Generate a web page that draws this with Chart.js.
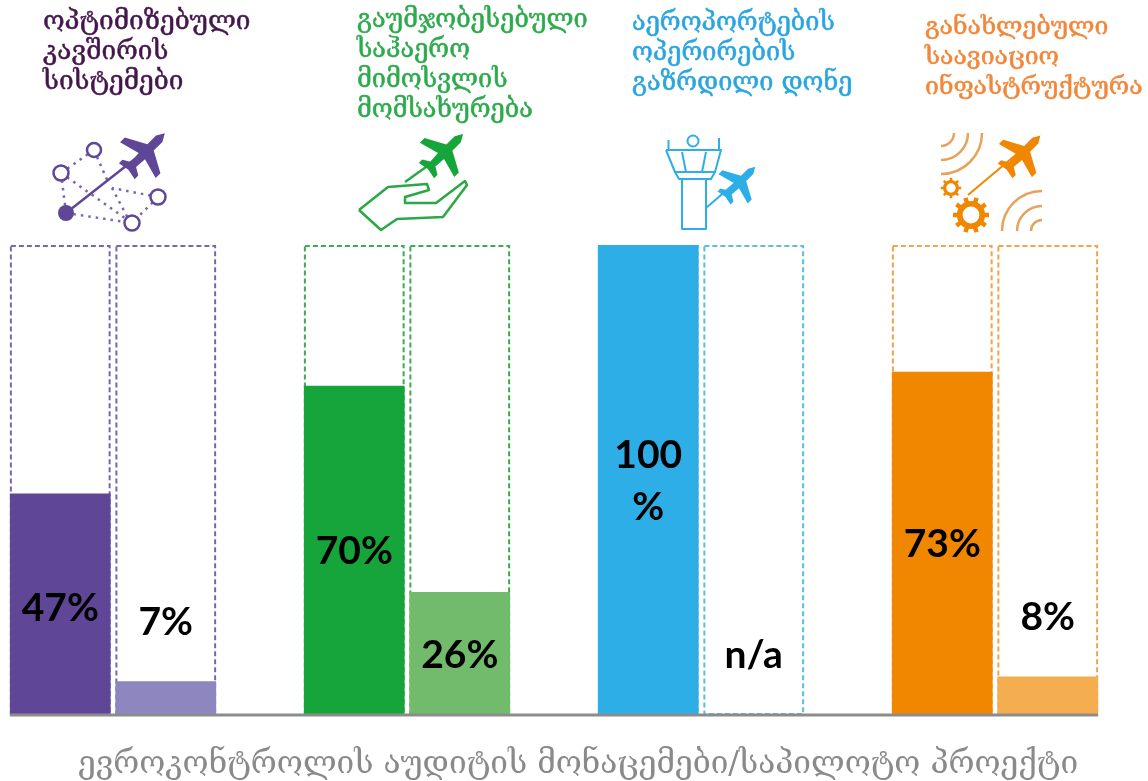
<!DOCTYPE html>
<html>
<head>
<meta charset="utf-8">
<title>chart</title>
<script src="https://cdn.jsdelivr.net/npm/chart.js@4/dist/chart.umd.min.js"></script>
<style>
  html, body { margin: 0; padding: 0; background: #fff; }
  canvas { display: block; }
</style>
</head>
<body>
<canvas id="myChart" width="1148" height="781"></canvas>
<script>
// data
const categories = [
    ["ოპტიმიზებული", "კავშირის", "სისტემები"],
    ["გაუმჯობესებული", "საჰაერო", "მიმოსვლის", "მომსახურება"],
    ["აეროპორტების", "ოპერირების", "გაზრდილი დონე"],
    ["განახლებული", "საავიაციო", "ინფასტრუქტურა"]
];
const auditValues = [47, 70, 100, 73];
const pilotValues = [7, 26, null, 8];
const auditLabels = ["47%", "70%", ["100", "%"], "73%"];
const pilotLabels = ["7%", "26%", "n/a", "8%"];
const caption = "ევროკონტროლის აუდიტის მონაცემები/საპილოტო პროექტი";

// styles
const auditColors = ["#5f4696", "#16a53a", "#2daee6", "#f18700"];
const pilotColors = ["#8d86bf", "#72bb6c", "#2daee6", "#f4ae50"];
const frameColors = ["#7a66ad", "#3fa954", "#5abbe8", "#f3a24a"];
const titleColors = ["#44174c", "#2daa4d", "#2aa5e0", "#f2873a"];
// axis units where the percent labels sit
const auditLabelLevels = [23, 35, 50, 36.5];
const pilotLabelLevels = [20, 13, 13, 21];
const titleX = [43, 357, 632, 925];
const titleY = [22, 20, 23, 28];
const titleSizes = [26.2, 25.3, 25.3, 24.8];
const titleStep = 30;

function plane(ctx, cx, cy, r, color) {
    const half = [[.72, .16], [.28, .16], [-.12, .9], [-.36, .9], [-.16, .16], [-.58, .13], [-.74, .4], [-.92, .4], [-.84, 0]];
    ctx.save();
    ctx.translate(cx, cy);
    ctx.rotate(-Math.PI / 4);
    ctx.scale(r, r);
    ctx.fillStyle = color;
    ctx.beginPath();
    ctx.moveTo(1, 0);
    half.forEach(p => ctx.lineTo(p[0], -p[1]));
    half.slice().reverse().forEach(p => ctx.lineTo(p[0], p[1]));
    ctx.closePath();
    ctx.fill();
    ctx.restore();
}

function line(ctx, pts) {
    ctx.beginPath();
    pts.forEach((p, i) => i ? ctx.lineTo(p[0], p[1]) : ctx.moveTo(p[0], p[1]));
    ctx.stroke();
}

function ring(ctx, x, y, r) {
    ctx.beginPath();
    ctx.arc(x, y, r, 0, Math.PI * 2);
    ctx.fillStyle = "#fff";
    ctx.fill();
    ctx.stroke();
}

function gear(ctx, x, y, r, teeth, color) {
    ctx.strokeStyle = color;
    ctx.lineWidth = r * .38;
    ctx.beginPath();
    ctx.arc(x, y, r * .75, 0, Math.PI * 2);
    ctx.stroke();
    ctx.lineWidth = r * .3;
    for (let i = 0; i < teeth; i++) {
        const a = i * Math.PI * 2 / teeth;
        line(ctx, [[x + Math.cos(a) * r * .8, y + Math.sin(a) * r * .8], [x + Math.cos(a) * r * 1.2, y + Math.sin(a) * r * 1.2]]);
    }
}

function drawIcons(ctx) {
    ctx.save();
    ctx.lineCap = "butt";
    ctx.lineJoin = "round";

    // network
    const purple = auditColors[0];
    ctx.strokeStyle = "#7a66ad";
    ctx.lineWidth = 2.5;
    ctx.setLineDash([2.5, 5]);
    [
        [[94, 150], [61, 173]], [[94, 150], [108, 182]], [[61, 173], [66, 213]], [[61, 173], [132, 223]],
        [[66, 213], [132, 223]], [[158, 197], [132, 223]], [[158, 197], [112, 188]], [[112, 188], [130, 222]]
    ].forEach(p => line(ctx, p));
    ctx.setLineDash([]);
    ctx.strokeStyle = purple;
    ctx.lineWidth = 2.5;
    line(ctx, [[66, 213], [140, 155]]);
    [[94, 150, 7], [61, 173, 7.5], [158, 197, 7.5], [132, 223, 7.5]].forEach(c => ring(ctx, c[0], c[1], c[2]));
    ctx.fillStyle = purple;
    ctx.beginPath();
    ctx.arc(66, 213, 8, 0, Math.PI * 2);
    ctx.fill();
    plane(ctx, 145, 153, 28, purple);

    // hand
    const green = auditColors[1];
    ctx.strokeStyle = "#2aa845";
    ctx.lineWidth = 2.5;
    line(ctx, [[359, 210], [388, 187], [427, 184], [429, 190], [405, 197], [405, 203], [436, 203], [465, 181], [467, 185], [443, 217], [397, 219], [381, 230], [359, 210]]);
    line(ctx, [[405, 182], [440, 157]]);
    plane(ctx, 444, 153, 27, green);

    // tower
    const blue = auditColors[2];
    ctx.strokeStyle = blue;
    ctx.lineWidth = 2;
    ring(ctx, 693, 141, 5.5);
    line(ctx, [[668.5, 140], [668.5, 150]]);
    line(ctx, [[719, 138], [719, 150]]);
    line(ctx, [[666, 150], [721, 150], [715, 172], [675, 172], [666, 150]]);
    line(ctx, [[682, 152], [686, 172]]);
    line(ctx, [[706, 152], [702, 172]]);
    line(ctx, [[675, 172], [679, 179], [711, 179], [715, 172]]);
    line(ctx, [[682, 179], [682, 229], [706, 229], [706, 179]]);
    line(ctx, [[706, 208], [735, 183]]);
    plane(ctx, 739, 183, 23, blue);

    // radar and gears
    const orange = auditColors[3];
    ctx.strokeStyle = "#e5a35c";
    ctx.lineWidth = 2.5;
    [13, 27, 41].forEach(r => {
        ctx.beginPath();
        ctx.arc(941, 133, r, 0, Math.PI / 2);
        ctx.stroke();
    });
    [11, 25, 40].forEach(r => {
        ctx.beginPath();
        ctx.arc(1042, 231, r, Math.PI, Math.PI * 1.5);
        ctx.stroke();
    });
    ctx.strokeStyle = orange;
    ctx.lineWidth = 2;
    line(ctx, [[968, 195], [1018, 153]]);
    plane(ctx, 1022, 154, 26, orange);
    gear(ctx, 951, 188, 8.5, 8, orange);
    gear(ctx, 971, 215, 15, 10, orange);
    ctx.restore();
}

const extras = {
    id: "extras",
    beforeDatasetsDraw(chart) {
        // dashed 100% frames behind the bars
        const ctx = chart.ctx;
        const y = chart.scales.y;
        const top = y.getPixelForValue(100) + 1;
        const bottom = y.getPixelForValue(0);
        ctx.save();
        ctx.lineWidth = 2;
        ctx.setLineDash([5, 3]);
        chart.data.datasets.forEach((ds, d) => {
            chart.getDatasetMeta(d).data.forEach((bar, i) => {
                ctx.strokeStyle = frameColors[i];
                ctx.strokeRect(bar.x - bar.width / 2 + 1, top, bar.width - 2, bottom - top);
            });
        });
        ctx.restore();
    },
    afterDatasetsDraw(chart) {
        const ctx = chart.ctx;
        const y = chart.scales.y;
        const metaA = chart.getDatasetMeta(0).data;
        const metaB = chart.getDatasetMeta(1).data;
        const base = y.getPixelForValue(0);

        // baseline
        ctx.save();
        ctx.strokeStyle = "#8c8c8c";
        ctx.lineWidth = 3;
        ctx.beginPath();
        ctx.moveTo(metaA[0].x - metaA[0].width / 2, base + 1);
        ctx.lineTo(metaB[3].x + metaB[3].width / 2, base + 1);
        ctx.stroke();

        // percent labels
        ctx.fillStyle = "#000";
        ctx.font = "bold 39px Lato";
        ctx.textAlign = "center";
        ctx.textBaseline = "middle";
        const putLabel = (text, x, level) => {
            const rows = [].concat(text);
            rows.forEach((t, r) => {
                ctx.fillText(t, x, y.getPixelForValue(level) + 2 + (r - (rows.length - 1) / 2) * 52);
            });
        };
        auditLabels.forEach((t, i) => putLabel(t, metaA[i].x, auditLabelLevels[i]));
        pilotLabels.forEach((t, i) => putLabel(t, metaB[i].x, pilotLabelLevels[i]));

        // titles above each pair
        ctx.textAlign = "left";
        categories.forEach((rows, i) => {
            ctx.font = titleSizes[i] + "px 'DejaVu Serif'";
            ctx.fillStyle = titleColors[i];
            ctx.strokeStyle = titleColors[i];
            ctx.lineWidth = .5;
            rows.forEach((t, r) => {
                ctx.fillText(t, titleX[i], titleY[i] + r * titleStep);
                ctx.strokeText(t, titleX[i], titleY[i] + r * titleStep);
            });
        });

        // caption
        ctx.textAlign = "center";
        ctx.fillStyle = "#8a8a8a";
        ctx.font = "31.6px 'DejaVu Serif'";
        ctx.fillText(caption, 578, 765);
        ctx.restore();

        drawIcons(ctx);
    }
};

const ctx = document.getElementById("myChart").getContext("2d");
new Chart(ctx, {
    type: "bar",
    data: {
        labels: categories.map(c => c.join(" ")),
        datasets: [
            { label: "audit", data: auditValues, backgroundColor: auditColors, clip: false },
            { label: "pilot", data: pilotValues, backgroundColor: pilotColors, clip: false }
        ]
    },
    options: {
        responsive: false,
        animation: false,
        categoryPercentage: 0.7177,
        barPercentage: 0.955,
        layout: { padding: { left: 113, right: 153, top: 245, bottom: 67 } },
        plugins: { legend: { display: false }, tooltip: { enabled: false }, title: { display: false } },
        scales: {
            x: { display: false, offset: false, grid: { offset: false } },
            y: { display: false, min: 0, max: 100 }
        }
    },
    plugins: [extras]
});
</script>
</body>
</html>
